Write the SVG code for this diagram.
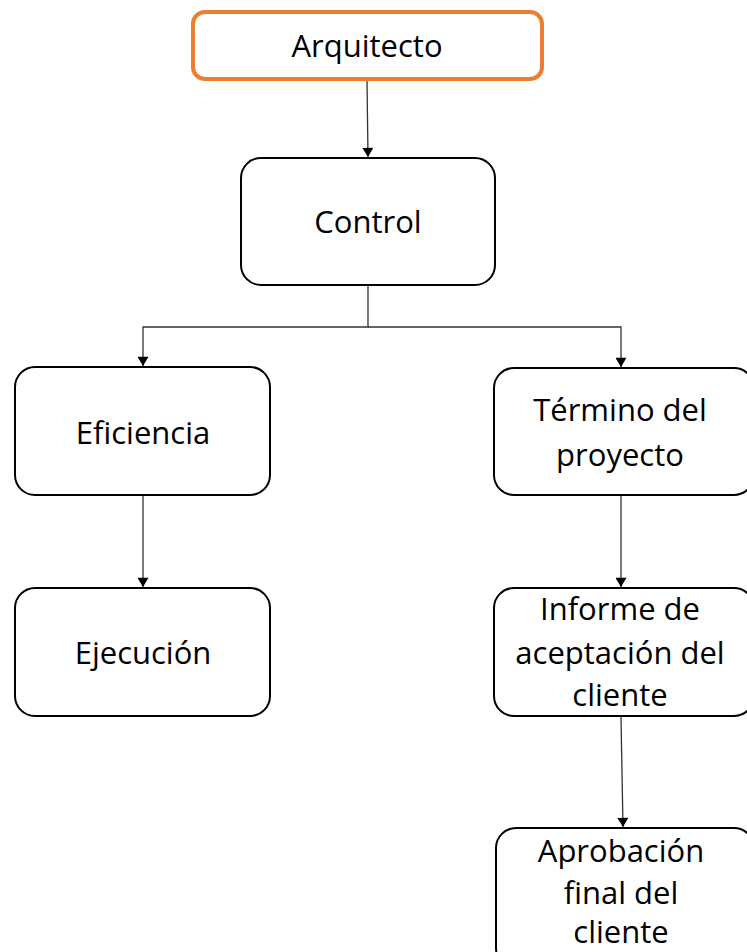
<svg xmlns="http://www.w3.org/2000/svg" width="747" height="952" viewBox="0 0 747 952">
<style>
.box{fill:#fff;stroke:#000;stroke-width:2}
.top{fill:#fff;stroke:#ED7D31;stroke-width:4}
.t{font-family:"Open Sans","Noto Sans",sans-serif;font-size:31px;fill:#000;text-anchor:middle}
.c{fill:none;stroke:#333;stroke-width:1.3}
</style>
<defs>
<marker id="ah" viewBox="0 0 10 12" refX="10" refY="6" markerWidth="12" markerHeight="11" markerUnits="userSpaceOnUse" orient="auto">
<path d="M0,0 L10,6 L0,12 z" fill="#000"/>
</marker>
</defs>
<rect width="747" height="952" fill="#fff"/>
<g id="connectors">
<path class="c" d="M367,81 L368,157" marker-end="url(#ah)"/>
<path class="c" d="M368,286 L368,327 L143,327 L143,366" marker-end="url(#ah)"/>
<path class="c" d="M368,327 L621,327 L621,367" marker-end="url(#ah)"/>
<path class="c" d="M143,496 L143,587" marker-end="url(#ah)"/>
<path class="c" d="M621,496 L621,587" marker-end="url(#ah)"/>
<path class="c" d="M621,717 L623,827" marker-end="url(#ah)"/>
</g>
<g id="arquitecto">
<rect class="top" x="193" y="12" width="349" height="67" rx="12"/>
<text class="t" x="367" y="57">Arquitecto</text>
</g>
<g id="control">
<rect class="box" x="241" y="158" width="254" height="127" rx="20"/>
<text class="t" x="368" y="233">Control</text>
</g>
<g id="eficiencia">
<rect class="box" x="15" y="367" width="255" height="128" rx="20"/>
<text class="t" x="143" y="444">Eficiencia</text>
</g>
<g id="termino">
<rect class="box" x="494" y="368" width="260" height="127" rx="20"/>
<text class="t" x="620" y="421">Término del</text>
<text class="t" x="620" y="466">proyecto</text>
</g>
<g id="ejecucion">
<rect class="box" x="15" y="588" width="255" height="128" rx="20"/>
<text class="t" x="143" y="664">Ejecución</text>
</g>
<g id="informe">
<rect class="box" x="494" y="588" width="260" height="128" rx="20"/>
<text class="t" x="620" y="620">Informe de</text>
<text class="t" x="620" y="664">aceptación del</text>
<text class="t" x="620" y="706">cliente</text>
</g>
<g id="aprobacion">
<rect class="box" x="496" y="828" width="258" height="140" rx="20"/>
<text class="t" x="621" y="862">Aprobación</text>
<text class="t" x="621" y="904">final del</text>
<text class="t" x="621" y="943">cliente</text>
</g>
</svg>
